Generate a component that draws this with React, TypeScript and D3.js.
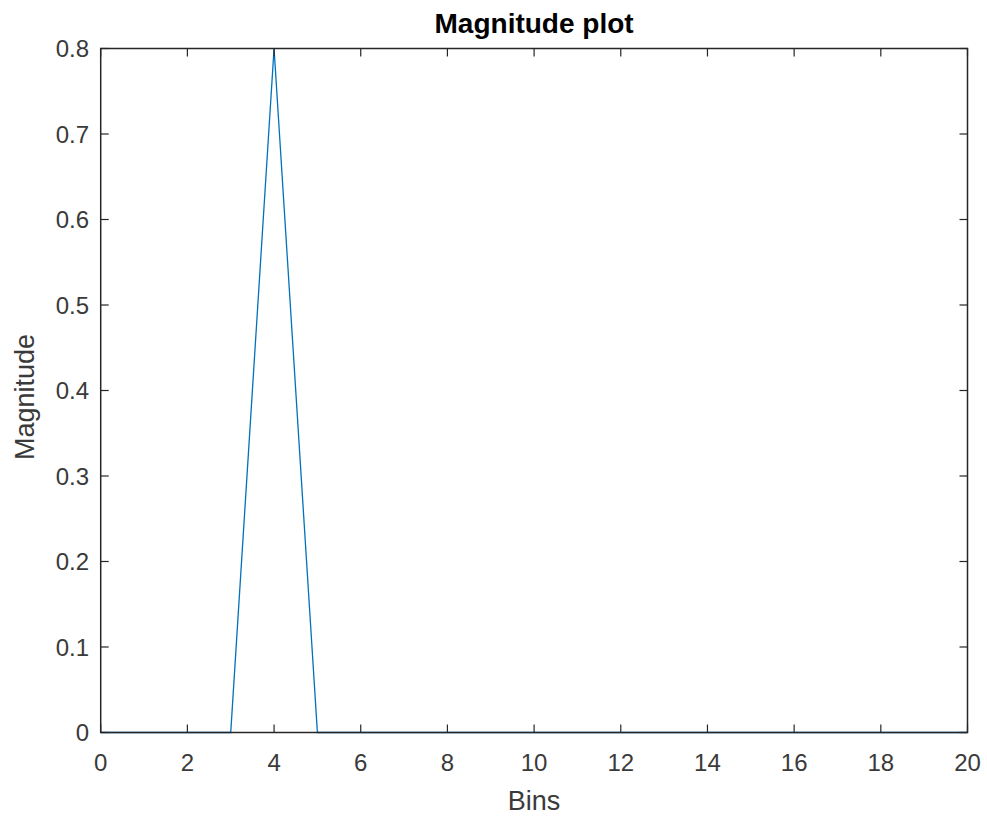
import React from "react";
import * as d3 from "d3";

const bins = [0, 1, 2, 3, 4, 5, 6, 7, 8, 9, 10, 11, 12, 13, 14, 15, 16, 17, 18, 19, 20];
const magnitude = [0, 0, 0, 0, 0.8, 0, 0, 0, 0, 0, 0, 0, 0, 0, 0, 0, 0, 0, 0, 0, 0];
const xTicks = [0, 2, 4, 6, 8, 10, 12, 14, 16, 18, 20];
const yTicks = [0, 0.1, 0.2, 0.3, 0.4, 0.5, 0.6, 0.7, 0.8];
const title = "Magnitude plot";
const xLabel = "Bins";
const yLabel = "Magnitude";

export default function App() {
  const W = 987, H = 816;
  const left = 100.7, right = 967.5, top = 48.5, bottom = 732.5;
  const x = d3.scaleLinear().domain([0, 20]).range([left, right]);
  const y = d3.scaleLinear().domain([0, 0.8]).range([bottom, top]);
  const line = d3.line<number>().x((_, i) => x(bins[i])).y((d) => y(d));
  const axisColor = "#262626";
  const textColor = "#3a3a3a";
  const tickLen = 8;
  const font = "'Liberation Sans', Arial, Helvetica, sans-serif";
  return (
    <svg width={W} height={H} style={{ position: "absolute", left: 0, top: 0, background: "#fff" }} fontFamily={font}>
      <rect x={0} y={0} width={W} height={H} fill="#fff" />
      <path d={line(magnitude) || ""} fill="none" stroke="#0072BD" strokeWidth={1.3} />
      <rect x={left} y={top} width={right - left} height={bottom - top} fill="none" stroke={axisColor} strokeWidth={1.5} />
      {xTicks.map((t) => (
        <g key={"x" + t}>
          <line x1={x(t)} x2={x(t)} y1={bottom} y2={bottom - tickLen} stroke={axisColor} strokeWidth={1.2} />
          <line x1={x(t)} x2={x(t)} y1={top} y2={top + tickLen} stroke={axisColor} strokeWidth={1.2} />
          <text x={x(t)} y={771} textAnchor="middle" fontSize={24} fill={textColor}>{t}</text>
        </g>
      ))}
      {yTicks.map((t) => (
        <g key={"y" + t}>
          <line x1={left} x2={left + tickLen} y1={y(t)} y2={y(t)} stroke={axisColor} strokeWidth={1.2} />
          <line x1={right} x2={right - tickLen} y1={y(t)} y2={y(t)} stroke={axisColor} strokeWidth={1.2} />
          <text x={89} y={y(t)} dy="0.36em" textAnchor="end" fontSize={24} fill={textColor}>{t === 0 ? "0" : d3.format(".1f")(t)}</text>
        </g>
      ))}
      <text x={(left + right) / 2} y={33} textAnchor="middle" fontSize={28} fontWeight="bold" fill="#000">{title}</text>
      <text x={(left + right) / 2} y={810} textAnchor="middle" fontSize={27} fill={textColor}>{xLabel}</text>
      <text transform={`translate(34,397) rotate(-90)`} textAnchor="middle" fontSize={27} fill={textColor}>{yLabel}</text>
    </svg>
  );
}
